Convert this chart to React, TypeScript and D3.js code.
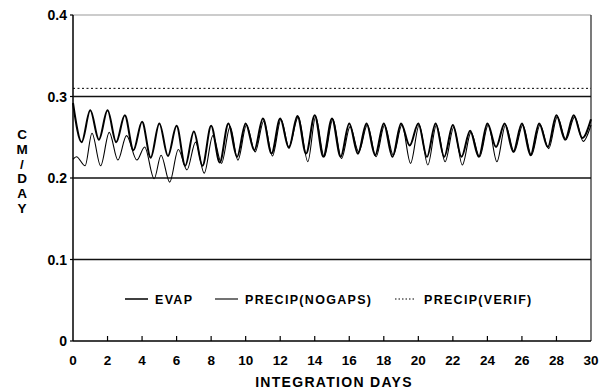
import React, { useEffect, useRef } from "react";
import * as d3 from "d3";

// EVAP: daily peaks at whole days, troughs at half days
const evapDays = d3.range(0, 30.01, 0.5);
const evapValues = [
  0.292, 0.244, 0.283, 0.247, 0.283, 0.244, 0.277, 0.234, 0.269, 0.225,
  0.267, 0.227, 0.264, 0.215, 0.257, 0.215, 0.264, 0.219, 0.267, 0.226,
  0.267, 0.234, 0.273, 0.230, 0.273, 0.237, 0.276, 0.230, 0.277, 0.226,
  0.273, 0.226, 0.267, 0.230, 0.267, 0.228, 0.267, 0.226, 0.267, 0.240,
  0.267, 0.226, 0.267, 0.226, 0.265, 0.226, 0.258, 0.226, 0.267, 0.238,
  0.267, 0.232, 0.267, 0.228, 0.267, 0.238, 0.277, 0.247, 0.277, 0.249,
  0.272,
];

// PRECIP(NOGAPS): slightly lagged, deeper troughs early on
const precipDays = [
  0, 0.2, 0.7, 1.1, 1.6, 2.1, 2.6, 3.1, 3.7, 4.15, 4.7, 5.1, 5.6, 6.1, 6.6,
  7.1, 7.6, 8.1, 8.6, 9.1, 9.55, 10.05, 10.55, 11.05, 11.55, 12.05, 12.5,
  13.05, 13.6, 14.05, 14.55, 15.05, 15.55, 16.05, 16.55, 17.05, 17.55, 18.05,
  18.55, 19.05, 19.55, 20.05, 20.55, 21.05, 21.55, 22.05, 22.55, 23.05, 23.55,
  24.05, 24.55, 25.05, 25.55, 26.05, 26.55, 27.05, 27.55, 28.05, 28.55, 29.05,
  29.55, 30,
];
const precipValues = [
  0.223, 0.226, 0.215, 0.255, 0.215, 0.256, 0.222, 0.252, 0.222, 0.238,
  0.199, 0.228, 0.195, 0.235, 0.21, 0.244, 0.206, 0.252, 0.218, 0.263,
  0.222, 0.265, 0.232, 0.27, 0.227, 0.272, 0.238, 0.275, 0.22, 0.275,
  0.226, 0.272, 0.224, 0.263, 0.232, 0.265, 0.226, 0.265, 0.228, 0.265,
  0.218, 0.265, 0.216, 0.265, 0.22, 0.262, 0.216, 0.256, 0.226, 0.265,
  0.22, 0.265, 0.232, 0.265, 0.228, 0.265, 0.236, 0.275, 0.247, 0.275,
  0.245, 0.265,
];

const verifValue = 0.31;
const xTicks = d3.range(0, 31, 2);
const yTicks = [0, 0.1, 0.2, 0.3, 0.4];
const yLabelChars = ["C", "M", "/", "D", "A", "Y"];

export default function App() {
  const svgRef = useRef<SVGSVGElement>(null);

  useEffect(() => {
    const svg = d3.select(svgRef.current);
    svg.selectAll("*").remove();

    const left = 73, right = 591, top = 15, bottom = 341;
    const font = "'Liberation Sans', Arial, sans-serif";

    const x = d3.scaleLinear().domain([0, 30]).range([left, right]);
    const y = d3.scaleLinear().domain([0, 0.4]).range([bottom, top]);

    // frame
    svg.append("line").attr("x1", left).attr("x2", right).attr("y1", top).attr("y2", top)
      .attr("stroke", "#999").attr("stroke-width", 1);
    svg.append("line").attr("x1", right).attr("x2", right).attr("y1", top).attr("y2", bottom)
      .attr("stroke", "#222").attr("stroke-width", 1.2);
    svg.append("line").attr("x1", left).attr("x2", left).attr("y1", top).attr("y2", bottom)
      .attr("stroke", "#000").attr("stroke-width", 1.5);
    svg.append("line").attr("x1", left).attr("x2", right).attr("y1", bottom).attr("y2", bottom)
      .attr("stroke", "#000").attr("stroke-width", 1.5);

    // horizontal gridlines
    svg.selectAll(".grid").data([0.1, 0.2, 0.3]).join("line")
      .attr("x1", left).attr("x2", right)
      .attr("y1", (d) => y(d)).attr("y2", (d) => y(d))
      .attr("stroke", "#111").attr("stroke-width", 1.4);

    // y ticks + labels
    svg.selectAll(".ytick").data(yTicks).join("line")
      .attr("x1", left - 3).attr("x2", left)
      .attr("y1", (d) => y(d)).attr("y2", (d) => y(d))
      .attr("stroke", "#000").attr("stroke-width", 1.2);
    svg.selectAll(".ylab").data(yTicks).join("text")
      .attr("x", left - 6).attr("y", (d) => y(d) + 5)
      .attr("text-anchor", "end")
      .attr("font-family", font).attr("font-weight", "bold").attr("font-size", 14)
      .text((d) => (d === 0 ? "0" : d3.format(".1f")(d)));

    // x ticks (inward) + labels
    svg.selectAll(".xtick").data(xTicks.filter((d) => d > 0 && d < 30)).join("line")
      .attr("x1", (d) => x(d)).attr("x2", (d) => x(d))
      .attr("y1", bottom).attr("y2", bottom - 5)
      .attr("stroke", "#000").attr("stroke-width", 1.2);
    svg.selectAll(".xlab").data(xTicks).join("text")
      .attr("x", (d) => x(d)).attr("y", bottom + 24)
      .attr("text-anchor", "middle")
      .attr("font-family", font).attr("font-weight", "bold").attr("font-size", 13.5)
      .text((d) => d);

    svg.append("text").attr("x", 334).attr("y", 387)
      .attr("text-anchor", "middle")
      .attr("font-family", font).attr("font-weight", "bold").attr("font-size", 14)
      .attr("letter-spacing", 1.3)
      .text("INTEGRATION DAYS");

    svg.selectAll(".ychar").data(yLabelChars).join("text")
      .attr("x", 22).attr("y", (d, i) => 139 + i * 14.8)
      .attr("text-anchor", "middle")
      .attr("font-family", font).attr("font-weight", "bold").attr("font-size", 13.5)
      .text((d) => d);

    // verification precip (dotted)
    svg.append("line").attr("x1", left).attr("x2", right)
      .attr("y1", y(verifValue)).attr("y2", y(verifValue))
      .attr("stroke", "#000").attr("stroke-width", 1).attr("stroke-dasharray", "2,2.5");

    const line = d3.line<[number, number]>()
      .x((d) => x(d[0])).y((d) => y(d[1]))
      .curve(d3.curveMonotoneX);

    const precip = precipDays.map((d, i) => [d, precipValues[i]] as [number, number]);
    const evap = evapDays.map((d, i) => [d, evapValues[i]] as [number, number]);

    svg.append("path").attr("d", line(precip)).attr("fill", "none")
      .attr("stroke", "#000").attr("stroke-width", 1.1);
    svg.append("path").attr("d", line(evap)).attr("fill", "none")
      .attr("stroke", "#000").attr("stroke-width", 2);

    // legend
    const ly = 299;
    const legend = [
      { x1: 125, x2: 148, tx: 155, label: "EVAP", w: 1.5, dash: null },
      { x1: 215, x2: 238, tx: 245, label: "PRECIP(NOGAPS)", w: 1.1, dash: null },
      { x1: 395, x2: 416, tx: 424, label: "PRECIP(VERIF)", w: 1, dash: "1.5,2" },
    ];
    legend.forEach((l) => {
      svg.append("line").attr("x1", l.x1).attr("x2", l.x2).attr("y1", ly).attr("y2", ly)
        .attr("stroke", "#000").attr("stroke-width", l.w)
        .attr("stroke-dasharray", l.dash);
      svg.append("text").attr("x", l.tx).attr("y", ly + 4.5)
        .attr("font-family", font).attr("font-weight", "bold").attr("font-size", 12.5)
        .attr("letter-spacing", 1.3)
        .text(l.label);
    });
  }, []);

  return (
    <svg ref={svgRef} width={603} height={391}
      style={{ position: "absolute", left: 0, top: 0, background: "#fff" }} />
  );
}
